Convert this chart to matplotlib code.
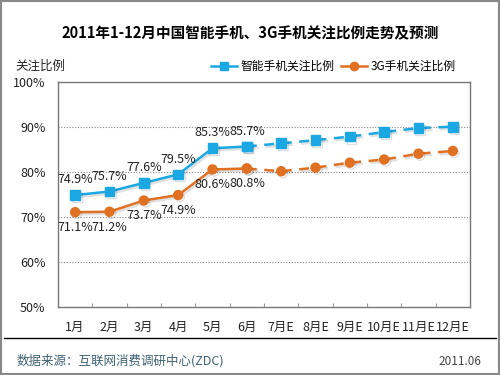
import matplotlib.pyplot as plt
import matplotlib.patheffects as pe
from matplotlib.patches import Rectangle
from matplotlib.lines import Line2D

plt.rcParams['font.family'] = ['Noto Sans CJK SC', 'DejaVu Sans']

# data
months = ['1月', '2月', '3月', '4月', '5月', '6月', '7月E', '8月E', '9月E', '10月E', '11月E', '12月E']
smart = [74.9, 75.7, 77.6, 79.5, 85.3, 85.7, 86.4, 87.1, 87.9, 88.9, 89.8, 90.1]
g3 = [71.1, 71.2, 73.7, 74.9, 80.6, 80.8, 80.2, 81.0, 82.1, 82.8, 84.1, 84.7]
n_actual = 6  # first 6 months are real data, rest are forecasts

blue = '#1ba7e1'
orange = '#e07122'

fig = plt.figure(figsize=(5, 3.75), dpi=100)
ax = fig.add_axes([0.116, 0.181, 0.824, 0.600])

x = list(range(len(months)))
shadow = [pe.SimpleLineShadow(offset=(1.2, -1.5), alpha=0.12, shadow_color='black'), pe.Normal()]

for vals, col, mk, ms, off in [(smart, blue, 's', 7, 11), (g3, orange, 'o', 6.5, -11)]:
    ax.plot(x[:n_actual], vals[:n_actual], color=col, lw=1.8, marker=mk, ms=ms,
            mec=col, path_effects=shadow, zorder=3)
    ax.plot(x[n_actual - 1:], vals[n_actual - 1:], color=col, lw=1.8, ls=(0, (4, 3)),
            marker=mk, ms=ms, mec=col, path_effects=shadow, zorder=3)
    for i in range(n_actual):
        ax.annotate('%.1f%%' % vals[i], (x[i], vals[i]), xytext=(0, off),
                    textcoords='offset points', ha='center', va='center', fontsize=9,
                    color='#222222')

ax.set_xlim(-0.5, len(months) - 0.5)
ax.set_ylim(50, 100)
ax.set_yticks([50, 60, 70, 80, 90, 100])
ax.set_yticklabels(['%d%%' % v for v in [50, 60, 70, 80, 90, 100]], fontsize=9, color='#222222')
ax.tick_params(axis='y', length=0, pad=9)
ax.set_xticks([i + 0.5 for i in range(len(months) - 1)])
ax.set_xticklabels([])
ax.tick_params(axis='x', which='major', direction='in', length=3, color='#999999')
ax.set_xticks(x, minor=True)
ax.set_xticklabels(months, minor=True, fontsize=9, color='#222222')
ax.tick_params(axis='x', which='minor', length=0, pad=10)
for v in [60, 70, 80, 90]:
    ax.axhline(v, color='#888888', lw=0.8, ls=(0, (1, 1.5)), zorder=1)
for s in ax.spines.values():
    s.set_color('#777777')
    s.set_linewidth(1)

fig.text(0.5, 0.912, '2011年1-12月中国智能手机、3G手机关注比例走势及预测',
         ha='center', va='center', fontsize=10.5, fontweight='bold')
fig.text(0.03, 0.823, '关注比例', ha='left', va='center', fontsize=9, color='#222222')

handles = [Line2D([], [], color=blue, marker='s', lw=1.8, ms=6),
           Line2D([], [], color=orange, marker='o', lw=1.8, ms=6)]
fig.legend(handles, ['智能手机关注比例', '3G手机关注比例'], loc='center left',
           bbox_to_anchor=(0.40, 0.823), ncol=2, frameon=False, fontsize=8.5,
           handlelength=2.2, handletextpad=0.3, columnspacing=0.6)

fig.add_artist(Line2D([0.008, 0.992], [0.099, 0.099], color='black', lw=1))
fig.text(0.034, 0.037, '数据来源：互联网消费调研中心(ZDC)', ha='left', va='center',
         fontsize=9, color='#3e6272')
fig.text(0.962, 0.037, '2011.06', ha='right', va='center', fontsize=8.5, color='#444444')
fig.add_artist(Rectangle((0.002, 0.003), 0.996, 0.994, transform=fig.transFigure,
                         fill=False, edgecolor='#888888', lw=1.5))

fig.savefig('out.png', dpi=100)
